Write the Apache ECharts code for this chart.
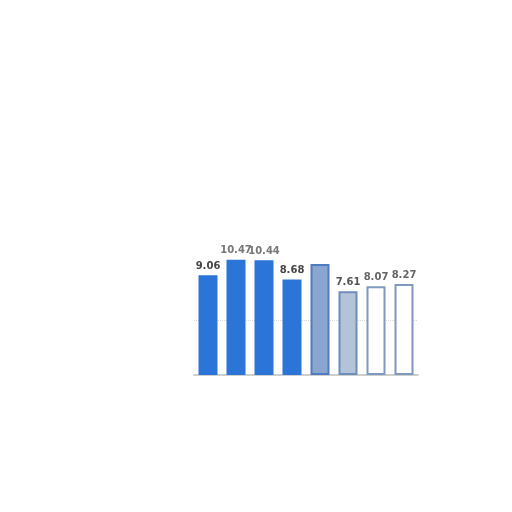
<!DOCTYPE html>
<html>
<head>
<meta charset="utf-8">
<script src="https://cdn.jsdelivr.net/npm/echarts@6/dist/echarts.min.js"></script>
<style>html,body{margin:0;padding:0;background:#fff;}#c{width:512px;height:512px;}</style>
</head>
<body>
<div id="c"></div>
<script>
var categories = ['1', '2', '3', '4', '5', '6', '7', '8'];
var values = [9.06, 10.47, 10.44, 8.68, 10.1, 7.61, 8.07, 8.27];
var showLabel = [true, true, true, true, false, true, true, true];
var fills = ['#2b74d8', '#2b74d8', '#2b74d8', '#2b74d8', '#8aa6cf', '#b5c3d8', '#ffffff', '#ffffff'];
var borders = ['#2b74d8', '#2b74d8', '#2b74d8', '#2b74d8', '#4d7cc0', '#6d8dbd', '#7f98bf', '#7f98bf'];
var labelColors = ['#444', '#777', '#777', '#444', '#777', '#555', '#666', '#666'];
var gridLines = [5];

var chart = echarts.init(document.getElementById('c'));
chart.setOption({
  animation: false,
  backgroundColor: '#fff',
  grid: { left: 194, right: 94, top: 210, bottom: 137 },
  xAxis: {
    type: 'category',
    data: categories,
    axisLine: { lineStyle: { color: '#cfcfcf', width: 2 } },
    axisTick: { show: false },
    axisLabel: { show: false }
  },
  yAxis: {
    type: 'value',
    min: 0, max: 15, interval: 5,
    axisLine: { show: false },
    axisTick: { show: false },
    axisLabel: { show: false },
    splitLine: { show: false }
  },
  series: [{
    type: 'bar',
    z: 3,
    barWidth: 19,
    data: values.map(function (v, i) {
      return {
        value: v,
        itemStyle: { color: fills[i], borderColor: borders[i], borderWidth: i >= 4 ? 2 : 0 },
        label: { show: showLabel[i], color: labelColors[i] }
      };
    }),
    label: {
      show: true,
      position: 'top',
      fontFamily: 'DejaVu Sans',
      fontSize: 10,
      fontWeight: 'bold',
      distance: 4
    },
    markLine: {
      silent: true,
      z: 1,
      symbol: 'none',
      label: { show: false },
      lineStyle: { color: '#d8d8d8', type: 'dotted', width: 1 },
      data: gridLines.map(function (g) { return { yAxis: g }; })
    }
  }]
});
</script>
</body>
</html>
